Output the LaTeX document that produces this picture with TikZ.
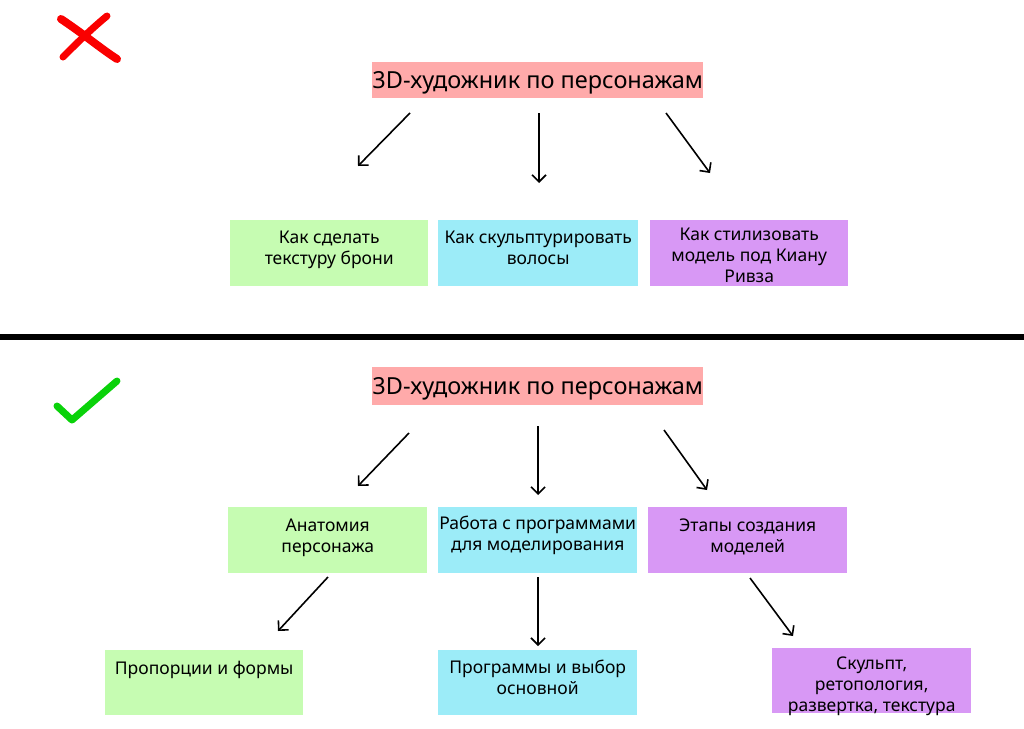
\documentclass[tikz,border=0pt]{standalone}
\usepackage{fontspec}
\setmainfont{Noto Sans}
\usetikzlibrary{arrows.meta}
\definecolor{cpink}{RGB}{255,170,170}
\definecolor{cgreen}{RGB}{198,252,178}
\definecolor{ccyan}{RGB}{156,236,248}
\definecolor{cpurple}{RGB}{216,152,245}
\definecolor{cred}{RGB}{250,0,0}
\definecolor{ccheck}{RGB}{10,210,10}
\tikzset{
  box/.style={draw=none, inner sep=0pt, anchor=north west},
  title/.style={font=\fontsize{23.5}{28}\selectfont, inner sep=0pt},
  txt/.style={font=\fontsize{17.5}{21}\selectfont, align=center, inner sep=0pt, anchor=north},
  arr/.style={line width=1.6pt, -{Straight Barb[length=7pt,width=14pt,line width=1.6pt]}},
}
\begin{document}
\begin{tikzpicture}[x=1pt,y=-1pt]
\useasboundingbox (0,0) rectangle (1024,728);
\fill[white] (0,0) rectangle (1024,728);

% marks
\draw[cred, line width=8pt, line cap=round] (61,19) .. controls (85,35) and (100,48) .. (117,59);
\draw[cred, line width=7pt, line cap=round] (107,16) .. controls (90,30) and (75,45) .. (63,57);
\draw[ccheck, line width=7pt, line cap=round, line join=round] (57,406) -- (72,420) -- (117,381);

% separator
\draw[line width=6pt] (0,337) -- (1024,337);

% ---- top part ----
\node[box, fill=cpink, minimum width=331pt, minimum height=36pt] (t1) at (372,62) {};
\node[title] (t1txt) at ([yshift=-3pt]t1.center) {3D-художник по персонажам};

\node[box, fill=cgreen, minimum width=198pt, minimum height=66pt] (a1) at (230,220) {};
\node[box, fill=ccyan, minimum width=200pt, minimum height=66pt] (a2) at (438,220) {};
\node[box, fill=cpurple, minimum width=198pt, minimum height=66pt] (a3) at (650,220) {};
\node[txt] (a1t) at ([yshift=-11pt]a1.north) {Как сделать\\текстуру брони};
\node[txt] (a2t) at ([yshift=-11pt]a2.north) {Как скульптурировать\\волосы};
\node[txt] (a3t) at ([yshift=-8pt]a3.north) {Как стилизовать\\модель под Киану\\Ривза};

\coordinate (p1s) at (410,113); \coordinate (p1e) at (358,166);
\coordinate (p2s) at (539,113); \coordinate (p2e) at (539,183);
\coordinate (p3s) at (666,113); \coordinate (p3e) at (710,173);
\draw[arr] (p1s) -- (p1e);
\draw[arr] (p2s) -- (p2e);
\draw[arr] (p3s) -- (p3e);

% ---- bottom part ----
\node[box, fill=cpink, minimum width=331pt, minimum height=38pt] (t2) at (372,367) {};
\node[title] (t2txt) at ([yshift=-3pt]t2.center) {3D-художник по персонажам};

\node[box, fill=cgreen, minimum width=199pt, minimum height=66pt] (b1) at (228,507) {};
\node[box, fill=ccyan, minimum width=199pt, minimum height=66pt] (b2) at (438,507) {};
\node[box, fill=cpurple, minimum width=199pt, minimum height=66pt] (b3) at (648,507) {};
\node[txt] (b1t) at ([yshift=-12pt]b1.north) {Анатомия\\персонажа};
\node[txt] (b2t) at ([yshift=-9pt]b2.north) {Работа с программами\\для моделирования};
\node[txt] (b3t) at ([yshift=-12pt]b3.north) {Этапы создания\\моделей};

\node[box, fill=cgreen, minimum width=198pt, minimum height=65pt] (c1) at (105,650) {};
\node[box, fill=ccyan, minimum width=199pt, minimum height=65pt] (c2) at (438,650) {};
\node[box, fill=cpurple, minimum width=199pt, minimum height=65pt] (c3) at (772,648) {};
\node[txt] (c1t) at ([yshift=-11pt]c1.north) {Пропорции и формы};
\node[txt] (c2t) at ([yshift=-10pt]c2.north) {Программы и выбор\\основной};
\node[txt] (c3t) at ([yshift=-9pt]c3.north) {Скульпт,\\ретопология,\\развертка, текстура};

\coordinate (q1s) at (409,433); \coordinate (q1e) at (358,486);
\coordinate (q2s) at (538,426); \coordinate (q2e) at (538,495);
\coordinate (q3s) at (664,430); \coordinate (q3e) at (707,490);
\draw[arr] (q1s) -- (q1e);
\draw[arr] (q2s) -- (q2e);
\draw[arr] (q3s) -- (q3e);

\coordinate (r1s) at (328,577); \coordinate (r1e) at (278,631);
\coordinate (r2s) at (538,577); \coordinate (r2e) at (538,646);
\coordinate (r3s) at (750,578); \coordinate (r3e) at (793,636);
\draw[arr] (r1s) -- (r1e);
\draw[arr] (r2s) -- (r2e);
\draw[arr] (r3s) -- (r3e);
\end{tikzpicture}
\end{document}
